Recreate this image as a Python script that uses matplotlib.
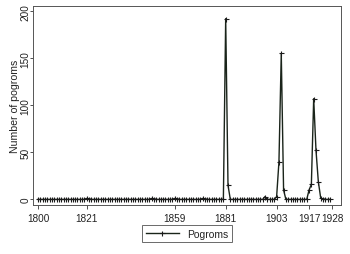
import matplotlib
matplotlib.use("Agg")
import matplotlib.pyplot as plt

# Data: annual number of pogroms, 1800-1926
years = list(range(1800, 1927))
pogroms = [
    0, 0, 0, 0, 0, 0, 0, 0, 0, 0,        # 1800-1809
    0, 0, 0, 0, 0, 0, 0, 0, 0, 0,        # 1810-1819
    0, 1, 0, 0, 0, 0, 0, 0, 0, 0,        # 1820-1829
    0, 0, 0, 0, 0, 0, 0, 0, 0, 0,        # 1830-1839
    0, 0, 0, 0, 0, 0, 0, 0, 0, 1,        # 1840-1849
    0, 0, 0, 0, 0, 0, 0, 0, 0, 1,        # 1850-1859
    0, 0, 0, 0, 0, 0, 0, 0, 0, 0,        # 1860-1869
    0, 1, 0, 0, 0, 0, 0, 0, 0, 0,        # 1870-1879
    0, 192, 15, 0, 0, 0, 0, 0, 0, 0,     # 1880-1889
    0, 0, 0, 0, 0, 0, 0, 0, 3, 0,        # 1890-1899
    0, 0, 0, 3, 40, 155, 10, 0, 0, 0,    # 1900-1909
    0, 0, 0, 0, 0, 0, 0, 10, 16, 107,    # 1910-1919
    52, 19, 2, 0, 0, 0, 0,               # 1920-1926
]
xtick_pos = [1800, 1821, 1859, 1881, 1903, 1917, 1927]
xtick_labels = ["1800", "1821", "1859", "1881", "1903", "1917", "1928"]
ytick_vals = [0, 50, 100, 150, 200]

plt.rcParams['font.family'] = ['Liberation Sans', 'DejaVu Sans']
txt = '#222222'

fig = plt.figure(figsize=(3.5, 2.55), dpi=100)
ax = fig.add_axes([0.095, 0.193, 0.878, 0.778])

ax.plot(years, pogroms, color='#1a241a', lw=1.0, marker='+', ms=3.6, mew=0.8,
        mec='#1a1a1a', label='Pogroms')

ax.set_xlim(1797.9, 1930.6)
ax.set_ylim(-5.7, 205)
ax.set_xticks(xtick_pos)
ax.set_xticklabels(xtick_labels)
ax.set_yticks(ytick_vals)
ax.set_yticklabels([str(v) for v in ytick_vals], rotation=90, va='center')
ax.tick_params(axis='both', labelsize=7.2, colors='#333333', labelcolor=txt,
               length=3, width=0.6, direction='out')
ax.tick_params(axis='x', pad=3)
ax.tick_params(axis='y', length=2.5, pad=-0.6)
for s in ax.spines.values():
    s.set_color('#555555')
    s.set_linewidth(0.7)

ax.set_ylabel('Number of pogroms', fontsize=7.6, color=txt)
ax.yaxis.set_label_coords(-0.043, 0.5)

leg = ax.legend(loc='center', bbox_to_anchor=(0.5, -0.145), frameon=True,
                fancybox=False, edgecolor='#444444', fontsize=7.4,
                handlelength=3.2, borderpad=0.35, handletextpad=0.8,
                borderaxespad=0)
leg.get_frame().set_linewidth(0.7)
for t in leg.get_texts():
    t.set_color(txt)

fig.savefig('out.png', dpi=100, facecolor='white')
